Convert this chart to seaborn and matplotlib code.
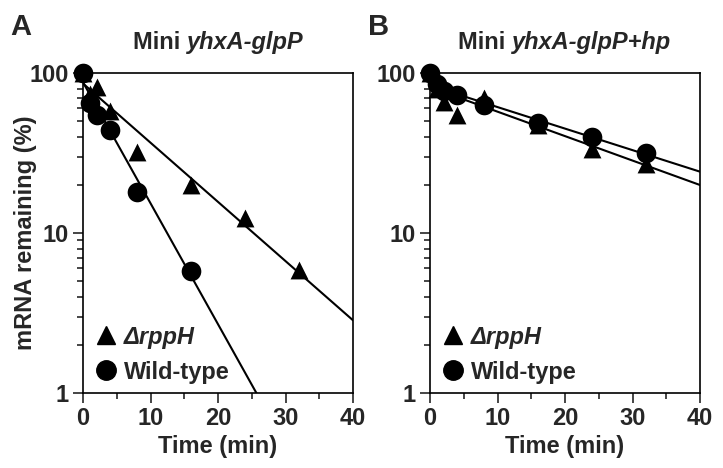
import numpy as np
import pandas as pd
import matplotlib
matplotlib.use("Agg")
import matplotlib.pyplot as plt
import seaborn as sns
from matplotlib.offsetbox import TextArea, HPacker, AnchoredOffsetbox
from matplotlib.lines import Line2D
from matplotlib.ticker import NullFormatter, LogLocator, MultipleLocator

# ---------------- data ----------------
time_A_rpph = [0, 1, 2, 4, 8, 16, 24, 32]
remain_A_rpph = [100, 74, 82, 58, 32, 20, 12.4, 5.9]
time_A_wt = [0, 1, 2, 4, 8, 16]
remain_A_wt = [100, 65, 55, 44, 18, 5.8]

time_B_rpph = [0, 1, 2, 4, 8, 16, 24, 32]
remain_B_rpph = [100, 80, 66, 55, 70, 47, 33.5, 26.8]
time_B_wt = [0, 1, 2, 4, 8, 16, 24, 32]
remain_B_wt = [100, 85, 77, 73, 63, 48.5, 40, 31.5]

# exponential fit lines: initial value and decay (decades per minute)
fit_A_rpph = (86.0, 0.0370)
fit_A_wt = (87.5, 0.0756)
fit_B_rpph = (81.5, 0.01528)
fit_B_wt = (83.5, 0.01346)
fit_range = [0, 40]

titles = [("Mini ", "yhxA-glpP"), ("Mini ", "yhxA-glpP+hp")]
panel_labels = ["A", "B"]
legend_labels = ["\u0394rppH", "Wild-type"]
xticks = [0, 10, 20, 30, 40]
yticks = [1, 10, 100]
ytick_labels = ["1", "10", "100"]

# ---------------- style ----------------
sns.set_style("ticks")
plt.rcParams["font.family"] = ["Liberation Sans", "DejaVu Sans"]
plt.rcParams["font.weight"] = "bold"
plt.rcParams["axes.linewidth"] = 1.2

W, H = 723, 468
fig = plt.figure(figsize=(W / 100, H / 100), dpi=100)
axA = fig.add_axes([83 / W, 1 - 393 / H, 270 / W, 320 / H])
axB = fig.add_axes([430 / W, 1 - 393 / H, 270 / W, 320 / H])

FS = 17
tri_s = 165
circ_s = 200


def make_df(t, v):
    return pd.DataFrame({"t": t, "v": v})


def fit_df(params):
    a0, k = params
    t = np.array(fit_range, dtype=float)
    return pd.DataFrame({"t": t, "v": a0 * 10 ** (-k * t)})


panels = [
    (axA, (time_A_rpph, remain_A_rpph, fit_A_rpph), (time_A_wt, remain_A_wt, fit_A_wt)),
    (axB, (time_B_rpph, remain_B_rpph, fit_B_rpph), (time_B_wt, remain_B_wt, fit_B_wt)),
]

for i, (ax, rp, wt) in enumerate(panels):
    for (t, v, fp) in (rp, wt):
        sns.lineplot(data=fit_df(fp), x="t", y="v", ax=ax, color="black",
                     linewidth=1.5, zorder=2)
    sns.scatterplot(data=make_df(rp[0], rp[1]), x="t", y="v", ax=ax, marker="^",
                    s=tri_s, color="black", linewidth=0, zorder=3)
    sns.scatterplot(data=make_df(wt[0], wt[1]), x="t", y="v", ax=ax, marker="o",
                    s=circ_s, color="black", linewidth=0, zorder=4)

    ax.set_yscale("log")
    ax.set_xlim(0, 40)
    ax.set_ylim(1, 100)
    ax.set_xticks(xticks)
    ax.set_xticklabels([str(x) for x in xticks])
    ax.xaxis.set_minor_locator(MultipleLocator(5))
    ax.set_yticks(yticks)
    ax.set_yticklabels(ytick_labels)
    ax.yaxis.set_minor_locator(LogLocator(base=10, subs=np.arange(2, 10)))
    ax.yaxis.set_minor_formatter(NullFormatter())
    ax.tick_params(axis="both", which="major", direction="out", length=7, width=1.2,
                   labelsize=FS, pad=3, top=False, right=False)
    ax.tick_params(axis="both", which="minor", direction="out", length=4, width=1.2,
                   top=False, right=False)
    for lab in ax.get_xticklabels() + ax.get_yticklabels():
        lab.set_fontweight("bold")
    for sp in ax.spines.values():
        sp.set_visible(True)
        sp.set_linewidth(1.2)
        sp.set_color("black")
    ax.set_xlabel("Time (min)", fontsize=FS, fontweight="bold", labelpad=4)
    ax.set_ylabel("")
    for c in ax.collections:
        c.set_clip_on(False)

    # title: normal + italic parts
    t1 = TextArea(titles[i][0], textprops=dict(fontsize=FS, fontweight="bold"))
    t2 = TextArea(titles[i][1], textprops=dict(fontsize=FS, fontweight="bold",
                                               fontstyle="italic"))
    pack = HPacker(children=[t1, t2], align="baseline", pad=0, sep=0)
    ab = AnchoredOffsetbox(loc="lower center", child=pack, frameon=False,
                           bbox_to_anchor=(0.5, 1.06), bbox_transform=ax.transAxes,
                           borderpad=0, pad=0)
    ax.add_artist(ab)

    # legend
    handles = [
        Line2D([], [], marker="^", color="black", linestyle="none", markersize=13),
        Line2D([], [], marker="o", color="black", linestyle="none", markersize=14),
    ]
    leg = ax.legend(handles, legend_labels, loc="lower left", bbox_to_anchor=(0.015, 0.0),
                    frameon=False, handlelength=0.8, handletextpad=0.35,
                    labelspacing=0.5, borderaxespad=0.0,
                    prop=dict(size=FS, weight="bold"))
    leg.get_texts()[0].set_fontstyle("italic")

fig.text(10 / W, 1 - 35 / H, panel_labels[0], fontsize=21, fontweight="bold", va="baseline")
fig.text(368 / W, 1 - 35 / H, panel_labels[1], fontsize=21, fontweight="bold", va="baseline")
fig.text(26 / W, 1 - 233 / H, "mRNA remaining (%)", rotation=90, fontsize=FS,
         fontweight="bold", va="center", ha="center")

fig.savefig("out.png", dpi=100)
